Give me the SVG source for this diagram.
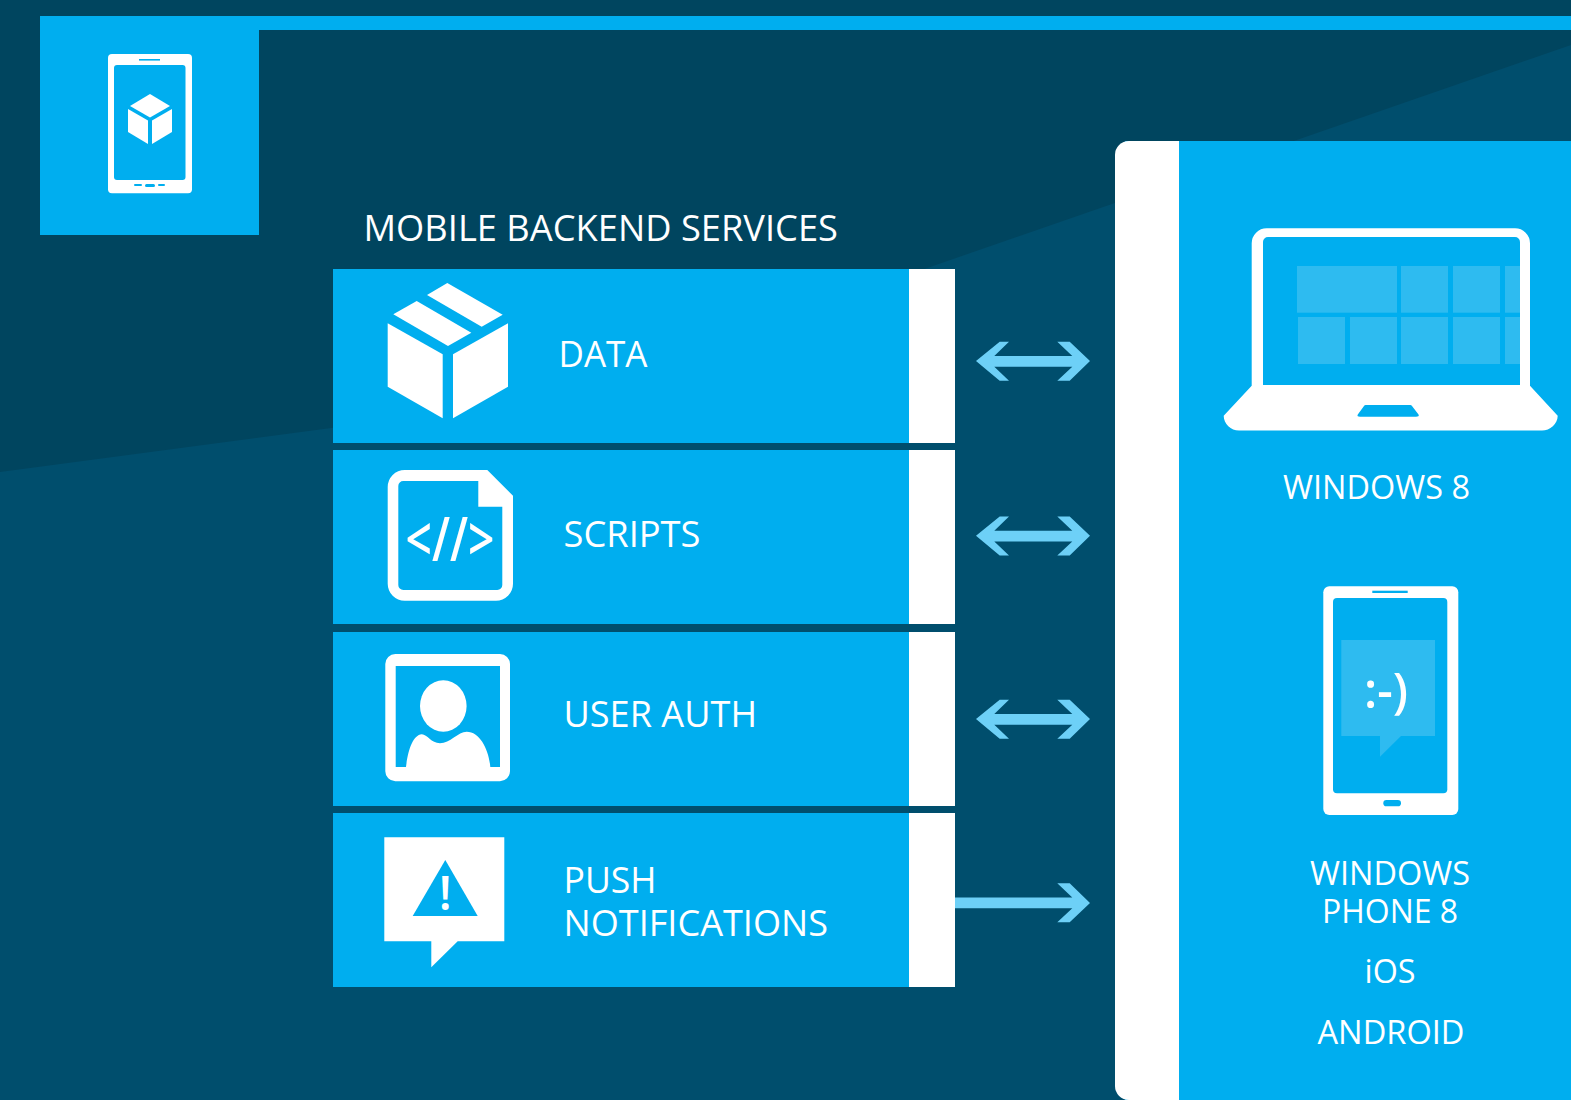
<svg xmlns="http://www.w3.org/2000/svg" width="1571" height="1100" viewBox="0 0 1571 1100">
<style>
text{font-family:"Open Sans","Noto Sans","Liberation Sans",sans-serif;fill:#fff}
.b{fill:#00aeef}.w{fill:#fff}.t{fill:#2ebbf0}
.l{font-size:36px}.r{font-size:32px}
.a{fill:#6dd0f7}
</style>
<defs>
<polygon id="dbl" points="976,361 999.7,341.7 1009,341.7 994.3,356 1072.3,356 1057.3,341.7 1069.7,341.7 1090,361 1069.7,380.7 1057.3,380.7 1072.3,366.7 994.3,366.7 1009,380.7 999.7,380.7"/>
</defs>
<rect width="1571" height="1100" fill="#00455f"/>
<polygon points="0,472 549,399 1571,45 1571,1100 0,1100" fill="#004e6d"/>
<g id="header">
<rect class="b" x="40" y="16" width="1531" height="14"/>
<rect class="b" x="40" y="16" width="219" height="219"/>
<rect class="w" x="108" y="54" width="84" height="139.300" rx="4"/>
<rect class="b" x="114" y="65" width="71.500" height="115" rx="3"/>
<rect class="b" x="139" y="59" width="21" height="1.600"/>
<rect class="b" x="134" y="184" width="8" height="2" rx="1"/>
<rect class="b" x="145" y="184" width="10" height="3" rx="1.500"/>
<rect class="b" x="158" y="184" width="7" height="2" rx="1"/>
<polygon class="w" points="150,94 170,106 150,117.500 130,106"/>
<polygon class="w" points="128,109 148,120.500 148,144 128,132"/>
<polygon class="w" points="152,120.500 172,109 172,132 152,144"/>
</g>
<text x="363.500" y="241" class="l" textLength="474.500" lengthAdjust="spacingAndGlyphs">MOBILE BACKEND SERVICES</text>
<g id="node-data">
<rect class="b" x="333" y="269" width="576" height="174"/>
<rect class="w" x="909" y="269" width="46" height="174"/>
<polygon class="w" points="447.300,283 502.700,314.700 481.700,326.700 427,295"/>
<polygon class="w" points="416.700,301 471.300,332.700 448,346 393.300,314.300"/>
<polygon class="w" points="387.700,323.300 442.700,354.300 442.700,418.300 387.700,386.700"/>
<polygon class="w" points="453,354.300 508,323.300 508,386.700 453,418.300"/>
<text x="558.500" y="367" class="l" textLength="89" lengthAdjust="spacingAndGlyphs">DATA</text>
</g>
<g id="node-scripts">
<rect class="b" x="333" y="450" width="576" height="174"/>
<rect class="w" x="909" y="450" width="46" height="174"/>
<path class="w" fill-rule="evenodd" d="M404.700,470H487.300L513,495.700V583.700a17,17 0 0 1-17,17H404.700a17,17 0 0 1-17-17V487a17,17 0 0 1 17-17ZM403.300,481a5,5 0 0 0-5,5V585a5,5 0 0 0 5,5H497.300a5,5 0 0 0 5-5V506.700H478.300V481Z"/>
<text x="405.500" y="561" font-size="62" font-weight="600" textLength="89" lengthAdjust="spacingAndGlyphs">&lt;//&gt;</text>
<text x="563.500" y="547" class="l" textLength="137" lengthAdjust="spacingAndGlyphs">SCRIPTS</text>
</g>
<g id="node-user-auth">
<rect class="b" x="333" y="632" width="576" height="174"/>
<rect class="w" x="909" y="632" width="46" height="174"/>
<path class="w" fill-rule="evenodd" d="M395.300,654H500a10,10 0 0 1 10,10V771.300a10,10 0 0 1-10,10H395.300a10,10 0 0 1-10-10V664a10,10 0 0 1 10-10ZM395.700,666V767H500V666Z"/>
<ellipse class="w" cx="443.300" cy="706" rx="23.300" ry="25.700"/>
<path class="w" d="M406,767C408,750 413,735 421.700,734.300C427,734 431,743.300 440,743.300C450,743.300 458,731.700 466.700,731.700C480,731.700 489,750 490.300,767Z"/>
<text x="563.500" y="726.700" class="l" textLength="193.500" lengthAdjust="spacingAndGlyphs">USER AUTH</text>
</g>
<g id="node-push">
<rect class="b" x="333" y="813" width="576" height="174"/>
<rect class="w" x="909" y="813" width="46" height="174"/>
<polygon class="w" points="384.300,837.300 504.300,837.300 504.300,941.300 457.700,941.300 431.300,967.300 431.300,941.300 384.300,941.300"/>
<polygon class="b" points="445.300,860 477.700,916 412.700,916"/>
<text x="445.300" y="909.500" font-size="47" font-weight="600" text-anchor="middle">!</text>
<text x="563.500" y="893.300" class="l" textLength="93" lengthAdjust="spacingAndGlyphs">PUSH</text>
<text x="563.500" y="936" class="l" textLength="264.500" lengthAdjust="spacingAndGlyphs">NOTIFICATIONS</text>
</g>
<g id="connectors" class="a">
<use href="#dbl"/>
<use href="#dbl" y="174.700"/>
<use href="#dbl" y="358"/>
<polygon points="955,897.500 1072.300,897.500 1057.300,883.300 1069.700,883.300 1090,903 1069.700,922.300 1057.300,922.300 1072.300,908.300 955,908.300"/>
</g>
<g id="node-platforms">
<path class="b" d="M1125,141H1571V1100H1125Z"/>
<path class="w" d="M1179,141H1129a14,14 0 0 0-14,14V1086a14,14 0 0 0 14,14H1179Z"/>
<path class="w" fill-rule="evenodd" d="M1266,228.300H1515a15,15 0 0 1 15,15V385.700L1557.700,415.700C1557.700,424 1550,430.600 1542,430.600H1239C1231,430.600 1223.700,424 1223.700,415.700L1251.700,385.700V243.300a15,15 0 0 1 15-15ZM1268,237a5,5 0 0 0-5,5V385H1520V242a5,5 0 0 0-5-5Z"/>
<path class="b" d="M1366,405H1410a2,2 0 0 1 2,1L1418.500,414.500C1419.500,416 1418,416.700 1416,416.700H1360C1358,416.700 1356.800,416 1357.800,414.500L1364,406a2,2 0 0 1 2-1Z"/>
<g class="t">
<rect x="1297" y="266" width="100" height="46.700"/><rect x="1401" y="266" width="47" height="46.700"/><rect x="1453" y="266" width="47" height="46.700"/><rect x="1505" y="266" width="15" height="46.700"/>
<rect x="1298" y="317" width="47" height="47"/><rect x="1350" y="317" width="47" height="47"/><rect x="1401" y="317" width="47" height="47"/><rect x="1453" y="317" width="47" height="47"/><rect x="1505" y="317" width="15" height="47"/>
</g>
<text x="1376.500" y="499" class="r" text-anchor="middle" textLength="187" lengthAdjust="spacingAndGlyphs">WINDOWS 8</text>
<rect class="w" x="1323.300" y="586.300" width="135" height="228.700" rx="6"/>
<rect class="b" x="1333" y="598" width="114.300" height="195.300" rx="4"/>
<rect class="b" x="1372.300" y="590.700" width="35.400" height="2.300"/>
<rect class="b" x="1383.300" y="800" width="17.700" height="6.300" rx="3.100"/>
<polygon class="t" points="1341.300,640 1435,640 1435,736 1401,736 1380,756.700 1380,736 1341.300,736"/>
<text x="1364" y="708" font-size="48" font-weight="600" textLength="44" lengthAdjust="spacingAndGlyphs">:-)</text>
<text x="1390" y="885" class="r" text-anchor="middle" textLength="160" lengthAdjust="spacingAndGlyphs">WINDOWS</text>
<text x="1390" y="923" class="r" text-anchor="middle" textLength="136" lengthAdjust="spacingAndGlyphs">PHONE 8</text>
<text x="1390" y="983" class="r" text-anchor="middle" textLength="51" lengthAdjust="spacingAndGlyphs">iOS</text>
<text x="1391" y="1044" class="r" text-anchor="middle" textLength="147" lengthAdjust="spacingAndGlyphs">ANDROID</text>
</g>
</svg>
